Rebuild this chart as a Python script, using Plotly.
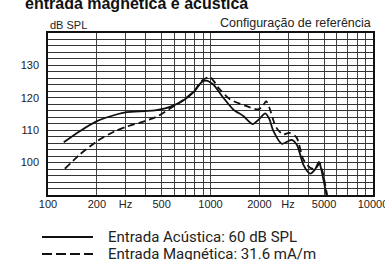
import plotly.graph_objects as go

# Acoustic input (solid)
freq_acu = [125, 157, 200, 270, 305, 395, 455, 525, 590, 680, 800, 880, 940, 1040, 1200, 1380,
            1590, 1820, 2000, 2170, 2300, 2440, 2750, 3150, 3400, 3725, 4100, 4400, 4650, 4800, 5200]
spl_acu = [106.3, 109.7, 112.8, 115.0, 115.6, 115.9, 116.1, 116.7, 117.6, 119.2, 122.1, 124.8, 125.3,
           124.1, 120.0, 116.4, 114.4, 111.9, 113.5, 115.2, 113.5, 109.7, 105.8, 107.0, 105.5, 99.4,
           96.6, 97.9, 100.2, 98.0, 89.3]

# Magnetic input (dashed)
freq_mag = [127, 157, 200, 258, 305, 395, 477, 577, 680, 800, 880, 990, 1140, 1320, 1670, 1960,
            2100, 2200, 2300, 2540, 2800, 3060, 3390, 3725, 4100, 4410, 4700, 4900, 5250]
spl_mag = [98.1, 102.5, 106.6, 109.7, 111.1, 112.8, 114.4, 117.0, 119.3, 122.3, 125.2, 126.4, 122.6,
           119.5, 117.4, 116.4, 117.5, 119.0, 117.0, 110.8, 108.7, 109.2, 107.7, 101.0, 98.4, 98.1,
           99.8, 97.0, 89.3]

x_tickvals = [100, 200, 300, 500, 1000, 2000, 3000, 5000, 10000]
x_ticktext = ["100", "200", "Hz", "500", "1000", "2000", "Hz", "5000", "10000"]
x_grid = [100, 200, 300, 400, 500, 600, 700, 800, 900, 1000, 2000, 3000, 4000, 5000, 6000,
          7000, 8000, 9000, 10000]
y_tickvals = [100, 110, 120, 130]
y_grid = list(range(90, 141, 2))

legend_labels = ["Entrada Acústica: 60 dB SPL", "Entrada Magnética: 31.6 mA/m"]

TICKFONT = dict(family="Liberation Sans Narrow, Arial Narrow, Liberation Sans, Arial", size=11, color="#222")

fig = go.Figure()
fig.add_trace(go.Scatter(x=freq_acu, y=spl_acu, mode="lines",
                         line=dict(color="#111", width=1.8, shape="spline", smoothing=0.7),
                         showlegend=False))
fig.add_trace(go.Scatter(x=freq_mag, y=spl_mag, mode="lines",
                         line=dict(color="#111", width=1.8, dash="7px,4px", shape="spline", smoothing=0.7),
                         showlegend=False))

fig.update_layout(
    width=385, height=260,
    margin=dict(l=48, r=12, t=33, b=65),
    paper_bgcolor="white", plot_bgcolor="white",
    showlegend=False,
    xaxis=dict(type="log", range=[2, 4], tickmode="array", tickvals=x_tickvals, ticktext=x_ticktext,
               showgrid=False, zeroline=False, showline=True, linecolor="#111", linewidth=1.5, mirror=True,
               ticks="", tickfont=TICKFONT, ticklabelstandoff=-2, ticklabeloverflow="allow", automargin=False,
               minor=dict(tickmode="array", tickvals=x_grid, showgrid=True, gridcolor="#444", gridwidth=1, ticks="")),
    yaxis=dict(range=[90, 140], tickmode="array", tickvals=y_tickvals, ticktext=[str(v) for v in y_tickvals],
               showgrid=False, zeroline=False, showline=True, linecolor="#111", linewidth=1.5, mirror=True,
               ticks="", tickfont=TICKFONT, ticklabelstandoff=5, automargin=False,
               minor=dict(tickmode="array", tickvals=y_grid, showgrid=True, gridcolor="#333", gridwidth=1, ticks="")),
)

ann_font = dict(family="Liberation Sans Narrow, Arial Narrow, Liberation Sans, Arial", color="#222")
fig.add_annotation(text="<b>entrada magnética e acústica</b>", xref="paper", yref="paper",
                   x=-48/325, y=(195-14)/162, xanchor="left", yanchor="bottom", showarrow=False,
                   font=dict(family="Liberation Sans, Arial", size=16, color="#111"), xshift=23)
fig.add_annotation(text="dB SPL", xref="paper", yref="paper", x=0, y=(195-25)/162,
                   xanchor="left", yanchor="middle", showarrow=False, font=dict(size=11, **ann_font))
fig.add_annotation(text="Configuração de referência", xref="paper", yref="paper", x=1, y=(195-23)/162,
                   xanchor="right", yanchor="middle", showarrow=False, font=dict(size=12.5, **ann_font))

# custom legend
leg_y = [237, 254]
dashes = ["solid", "10px,4px"]
for lbl, yy, dsh in zip(legend_labels, leg_y, dashes):
    fy = (195 - yy) / 162
    fig.add_shape(type="line", xref="paper", yref="paper", x0=(42-48)/325, x1=(93-48)/325, y0=fy, y1=fy,
                  line=dict(color="#111", width=2, dash=dsh))
    fig.add_annotation(text=lbl, xref="paper", yref="paper", x=(106-48)/325, y=fy, xanchor="left",
                       yanchor="middle", showarrow=False,
                       font=dict(family="Roboto, Liberation Sans", size=15, color="#222"))

fig.write_html("out.html", config={"displayModeBar": False},
               post_script="document.body.style.margin='0';document.body.style.overflow='hidden';")
